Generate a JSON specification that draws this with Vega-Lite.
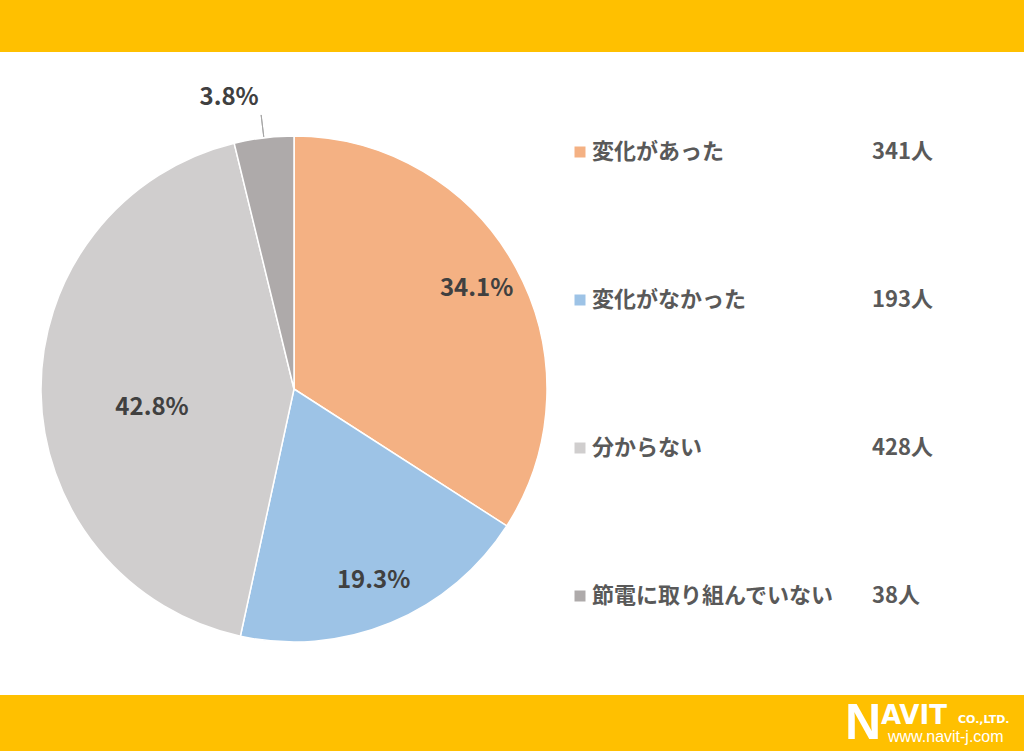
{
  "$schema": "https://vega.github.io/schema/vega-lite/v6.json",
  "width": 1024,
  "height": 751,
  "autosize": {"type": "fit", "contains": "padding"},
  "padding": {"top": 52, "bottom": 56, "left": 0, "right": 0},
  "background": "#FFC000",
  "view": {"fill": "white", "stroke": null},
  "config": {"font": "Noto Sans CJK JP"},
  "data": {
    "values": [
      {"idx": 1, "cat": "変化があった", "count": 341, "pct": "34.1%", "num": "341人"},
      {"idx": 2, "cat": "変化がなかった", "count": 193, "pct": "19.3%", "num": "193人"},
      {"idx": 3, "cat": "分からない", "count": 428, "pct": "42.8%", "num": "428人"},
      {"idx": 4, "cat": "節電に取り組んでいない", "count": 38, "pct": "3.8%", "num": "38人"}
    ]
  },
  "layer": [
    {
      "mark": {"type": "arc", "x": 294, "y": 337, "radius": 253, "stroke": "white", "strokeWidth": 1.5},
      "encoding": {
        "theta": {"field": "count", "type": "quantitative", "stack": true},
        "order": {"field": "idx", "type": "quantitative"},
        "color": {
          "field": "cat", "type": "nominal", "legend": null,
          "scale": {
            "domain": ["変化があった", "変化がなかった", "分からない", "節電に取り組んでいない"],
            "range": ["#F4B183", "#9DC3E6", "#D0CECE", "#AEAAAA"]
          }
        }
      }
    },
    {
      "transform": [
        {"stack": "count", "groupby": [], "sort": [{"field": "idx", "order": "ascending"}], "as": ["t0", "t1"]},
        {"calculate": "(datum.t0 + datum.t1) / 2", "as": "mid"},
        {"calculate": "(datum.t0 + datum.t1) / 2 + 0.01", "as": "mid2"},
        {"filter": "datum.idx == 4"}
      ],
      "mark": {"type": "arc", "x": 294, "y": 337, "radius": 276, "radius2": 254, "fill": null, "stroke": "#A6A6A6", "strokeWidth": 1},
      "encoding": {
        "theta": {"field": "mid", "type": "quantitative"},
        "theta2": {"field": "mid2"}
      }
    },
    {
      "transform": [
        {"stack": "count", "groupby": [], "sort": [{"field": "idx", "order": "ascending"}], "as": ["t0", "t1"]},
        {"calculate": "(datum.t0 + datum.t1) / 2", "as": "mid"},
        {"filter": "datum.idx <= 2"}
      ],
      "mark": {"type": "text", "x": 294, "y": 337, "radius": 208, "fontSize": 24, "fontWeight": "bold", "color": "#404040", "font": "Noto Sans CJK JP"},
      "encoding": {
        "theta": {"field": "mid", "type": "quantitative"},
        "text": {"field": "pct"}
      }
    },
    {
      "transform": [
        {"stack": "count", "groupby": [], "sort": [{"field": "idx", "order": "ascending"}], "as": ["t0", "t1"]},
        {"calculate": "(datum.t0 + datum.t1) / 2", "as": "mid"},
        {"filter": "datum.idx == 3"}
      ],
      "mark": {"type": "text", "x": 294, "y": 337, "radius": 142, "dy": 17, "fontSize": 24, "fontWeight": "bold", "color": "#404040", "font": "Noto Sans CJK JP"},
      "encoding": {
        "theta": {"field": "mid", "type": "quantitative"},
        "text": {"field": "pct"}
      }
    },
    {
      "transform": [
        {"stack": "count", "groupby": [], "sort": [{"field": "idx", "order": "ascending"}], "as": ["t0", "t1"]},
        {"calculate": "(datum.t0 + datum.t1) / 2", "as": "mid"},
        {"filter": "datum.idx == 4"}
      ],
      "mark": {"type": "text", "x": 294, "y": 337, "radius": 293, "dx": -30, "fontSize": 24, "fontWeight": "bold", "color": "#404040", "font": "Noto Sans CJK JP"},
      "encoding": {
        "theta": {"field": "mid", "type": "quantitative"},
        "text": {"field": "pct"}
      }
    },
    {
      "mark": {"type": "square", "x": 580, "size": 121, "opacity": 1, "filled": true},
      "encoding": {
        "y": {"field": "cat", "type": "nominal", "axis": null, "sort": {"field": "idx"},
              "scale": {"type": "point", "range": [100, 544], "padding": 0}},
        "color": {"field": "cat", "type": "nominal", "legend": null}
      }
    },
    {
      "mark": {"type": "text", "x": 592, "align": "left", "baseline": "middle", "fontSize": 22, "fontWeight": "bold", "color": "#595959", "font": "Noto Sans CJK JP"},
      "encoding": {
        "y": {"field": "cat", "type": "nominal", "axis": null, "sort": {"field": "idx"}},
        "text": {"field": "cat"}
      }
    },
    {
      "mark": {"type": "text", "x": 872, "align": "left", "baseline": "middle", "fontSize": 22, "fontWeight": "bold", "color": "#595959", "font": "Noto Sans CJK JP"},
      "encoding": {
        "y": {"field": "cat", "type": "nominal", "axis": null, "sort": {"field": "idx"}},
        "text": {"field": "num"}
      }
    },
    {
      "data": {"values": [{"t": "N"}]},
      "mark": {"type": "text", "x": 845, "y": 687, "align": "left", "baseline": "alphabetic", "fontSize": 50, "fontWeight": "bold", "color": "white", "font": "Liberation Sans", "clip": false},
      "encoding": {"text": {"field": "t"}}
    },
    {
      "data": {"values": [{"t": "AVIT"}]},
      "mark": {"type": "text", "x": 881, "y": 672, "align": "left", "baseline": "alphabetic", "fontSize": 26, "fontWeight": "bold", "color": "white", "font": "DejaVu Sans", "clip": false},
      "encoding": {"text": {"field": "t"}}
    },
    {
      "data": {"values": [{"t": "CO.,LTD."}]},
      "mark": {"type": "text", "x": 958, "y": 671, "align": "left", "baseline": "alphabetic", "fontSize": 11, "fontWeight": "bold", "color": "white", "font": "DejaVu Sans", "clip": false},
      "encoding": {"text": {"field": "t"}}
    },
    {
      "data": {"values": [{"t": "www.navit-j.com"}]},
      "mark": {"type": "text", "x": 888, "y": 690, "align": "left", "baseline": "alphabetic", "fontSize": 16, "color": "white", "font": "Liberation Sans", "clip": false},
      "encoding": {"text": {"field": "t"}}
    }
  ]
}
